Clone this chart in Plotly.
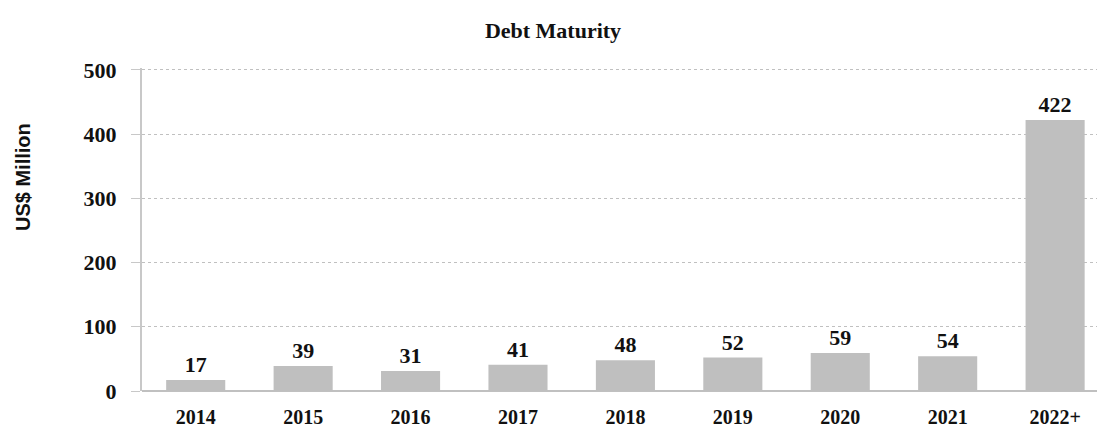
import plotly.graph_objects as go

categories = ["2014", "2015", "2016", "2017", "2018", "2019", "2020", "2021", "2022+"]
values = [17, 39, 31, 41, 48, 52, 59, 54, 422]
y_ticks = [0, 100, 200, 300, 400, 500]

serif = "Liberation Serif, Times New Roman, serif"

fig = go.Figure(
    go.Bar(
        x=categories,
        y=values,
        width=0.55,
        marker=dict(color="#bfbfbf", line=dict(width=0)),
        text=[str(v) for v in values],
        texttemplate="<b>%{text}</b>",
        textposition="outside",
        cliponaxis=False,
        textfont=dict(family=serif, size=22, color="#111111"),
    )
)

W, H = 1099, 428
L, R, T, B = 142, 2, 68, 37
y_top = 503

fig.update_layout(
    width=W,
    height=H,
    margin=dict(l=L, r=R, t=T, b=B, autoexpand=False),
    paper_bgcolor="white",
    plot_bgcolor="white",
    showlegend=False,
    title=dict(
        text="<b>Debt Maturity</b>",
        x=553 / W,
        xanchor="center",
        y=1 - 30 / H,
        yanchor="middle",
        font=dict(family=serif, size=22, color="#111111"),
    ),
    annotations=[
        dict(
            text="<b>US$ Million</b>",
            xref="paper", yref="paper",
            x=-(L - 23) / (W - L - R), xanchor="center",
            y=(H - B - 177) / (H - T - B),
            yanchor="middle",
            textangle=-90,
            showarrow=False,
            font=dict(family="Liberation Sans, Arial, sans-serif", size=20, color="#111111"),
        )
    ],
)

fig.update_xaxes(
    type="category",
    range=[-0.5, 8.39],
    tickvals=categories,
    ticktext=[f"<b>{c}</b>" for c in categories],
    showgrid=False,
    showline=False,
    ticks="",
    tickfont=dict(family=serif, size=20, color="#111111"),
    ticklabelstandoff=12,
    zeroline=False,
    automargin=False,
)

fig.update_yaxes(
    range=[0, y_top],
    tickvals=y_ticks,
    ticktext=[f"<b>{v}</b>" for v in y_ticks],
    showgrid=True,
    gridcolor="#c0c0c0",
    griddash="dot",
    gridwidth=1,
    showline=True,
    linecolor="#c8c8c8",
    linewidth=2,
    ticks="outside",
    ticklen=9,
    tickcolor="#c8c8c8",
    tickfont=dict(family=serif, size=22, color="#111111"),
    ticklabelstandoff=10,
    zeroline=True,
    zerolinecolor="#c0c0c0",
    zerolinewidth=2,
    automargin=False,
)

fig.write_html(
    "out.html",
    config={"displayModeBar": False},
    post_script="document.body.style.margin='0';document.body.style.overflow='hidden';",
)
